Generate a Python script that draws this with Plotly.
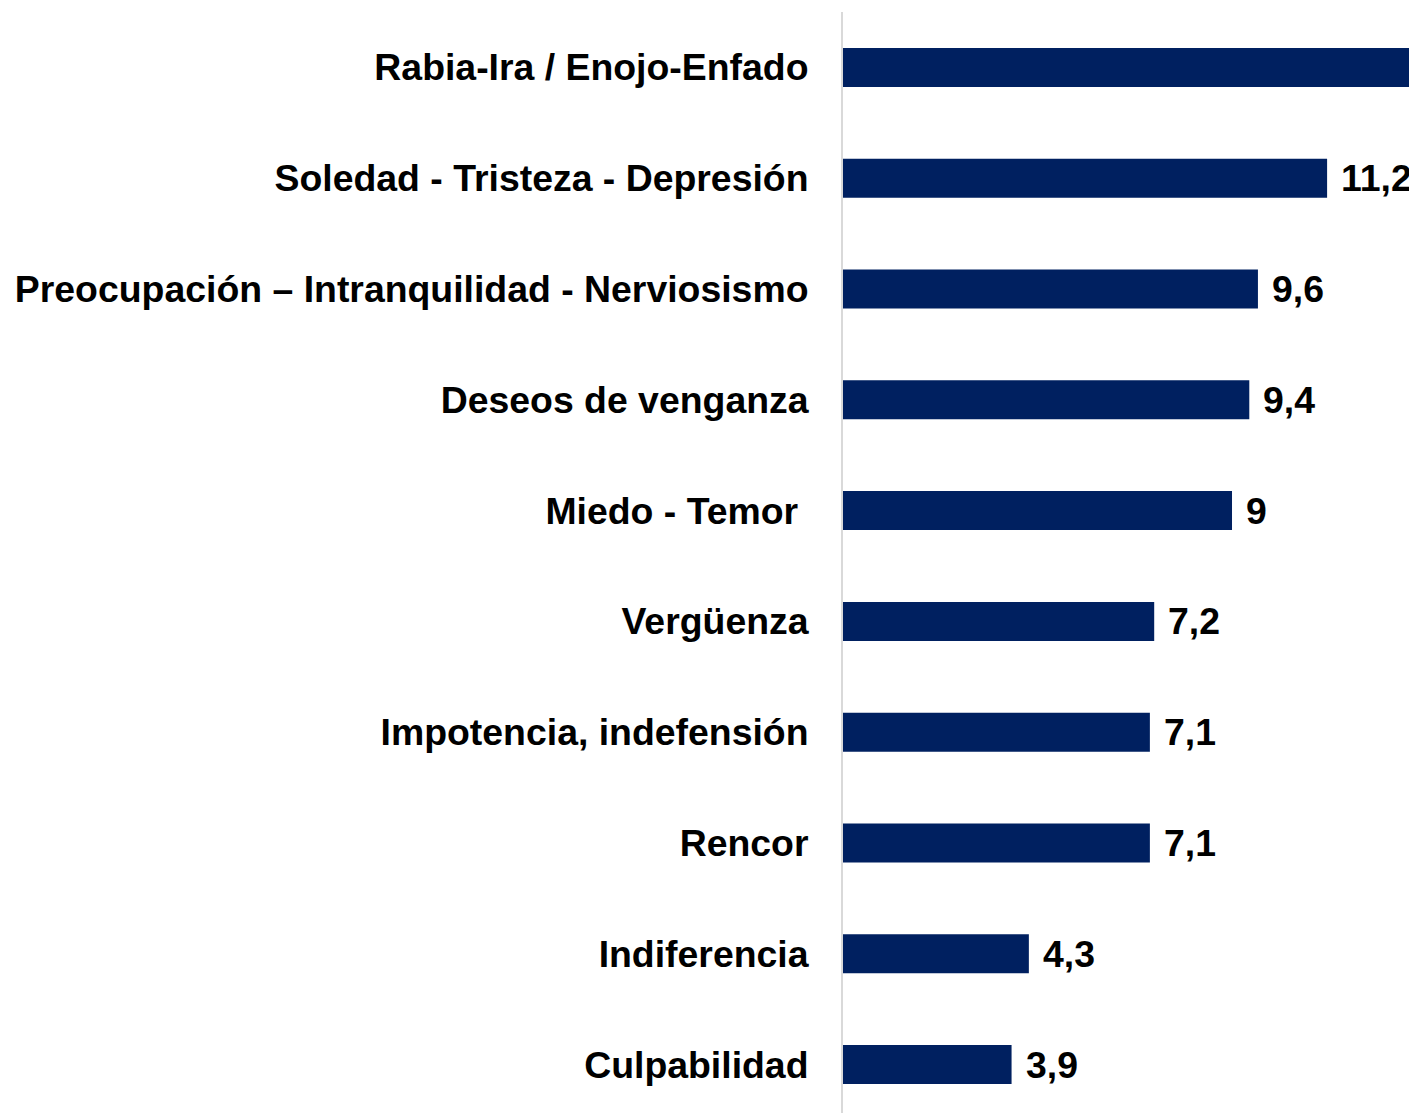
import plotly.graph_objects as go

categories = [
    "Rabia-Ira / Enojo-Enfado",
    "Soledad - Tristeza - Depresión",
    "Preocupación – Intranquilidad - Nerviosismo",
    "Deseos de venganza",
    "Miedo - Temor ",
    "Vergüenza",
    "Impotencia, indefensión",
    "Rencor",
    "Indiferencia",
    "Culpabilidad",
]
values = [14.9, 11.2, 9.6, 9.4, 9.0, 7.2, 7.1, 7.1, 4.3, 3.9]
value_labels = ["14,9", "11,2", "9,6", "9,4", "9", "7,2", "7,1", "7,1", "4,3", "3,9"]

BAR_COLOR = "#002060"
FONT = "Liberation Sans, Arial, sans-serif"

idx = list(range(len(categories)))

fig = go.Figure()
fig.add_trace(go.Bar(
    x=values,
    y=idx,
    orientation="h",
    marker=dict(color=BAR_COLOR, line=dict(width=0)),
    width=0.352,
    hoverinfo="skip",
))

for i, (v, t) in enumerate(zip(values, value_labels)):
    fig.add_annotation(
        x=v, y=i, xref="x", yref="y", text=t, showarrow=False,
        xanchor="left", yanchor="middle", xshift=12,
        font=dict(family=FONT, size=37.4, color="black", weight="bold"),
    )

fig.update_layout(
    width=1409, height=1105,
    margin=dict(l=835, r=0, t=4, b=0),
    paper_bgcolor="white", plot_bgcolor="white",
    showlegend=False,
    xaxis=dict(range=[0, 13.28], showgrid=False, zeroline=False,
               showticklabels=False, showline=False, fixedrange=True),
    yaxis=dict(
        tickmode="array", tickvals=idx, ticktext=categories,
        range=[9.437, -0.5], showgrid=False, zeroline=False,
        showline=True, linecolor="#d9d9d9", linewidth=2,
        ticks="", ticklabelstandoff=25,
        tickfont=dict(family=FONT, size=37.4, color="black", weight="bold"),
    ),
)

fig.write_html("out.html")
